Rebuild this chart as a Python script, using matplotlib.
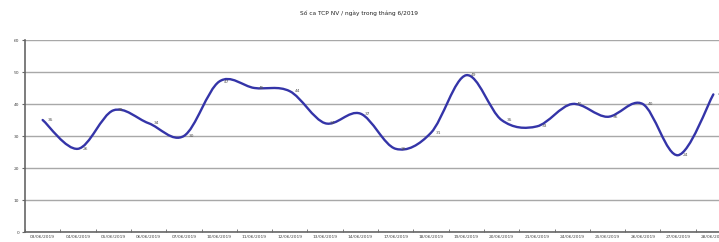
import matplotlib
matplotlib.use('Agg')
import matplotlib.pyplot as plt
from matplotlib.path import Path
from matplotlib.patches import PathPatch
import numpy as np

# working days of June 2019
days = [3, 4, 5, 6, 7, 10, 11, 12, 13, 14, 17, 18, 19, 20, 21, 24, 25, 26, 27, 28]
labels = [f'{d:02d}/06/2019' for d in days]
values = [35, 26, 38, 34, 30, 47, 45, 44, 34, 37, 26, 31, 49, 35, 33, 40, 36, 40, 24, 43]
title = 'Số ca TCP NV / ngày trong tháng 6/2019'

line_color = '#3434A8'
grid_color = '#A8A8A8'


def smooth_path(xs, ys):
    # excel-like smoothed line (catmull-rom as cubic bezier)
    pts = np.column_stack([xs, ys]).astype(float)
    ext = np.vstack([pts[0], pts, pts[-1]])
    verts = [tuple(pts[0])]
    codes = [Path.MOVETO]
    for i in range(len(pts) - 1):
        p0, p1, p2, p3 = ext[i], ext[i + 1], ext[i + 2], ext[i + 3]
        c1 = p1 + (p2 - p0) / 6.0
        c2 = p2 - (p3 - p1) / 6.0
        verts += [tuple(c1), tuple(c2), tuple(p2)]
        codes += [Path.CURVE4] * 3
    return Path(verts, codes)


fig = plt.figure(figsize=(7.19, 2.42), dpi=100)
ax = fig.add_axes([25 / 719, 10 / 242, 706 / 719, 192 / 242])

x = np.arange(len(values))
patch = PathPatch(smooth_path(x, values), facecolor='none', edgecolor=line_color,
                  lw=1.7, capstyle='round', joinstyle='round', zorder=3)
ax.add_patch(patch)

for xi, v in zip(x, values):
    ax.annotate(str(v), (xi, v), xytext=(3.5, 0), textcoords='offset points',
                fontsize=3.2, color='#555555', va='center', ha='left', zorder=4)

ax.set_xlim(-0.5, len(values) - 0.5)
ax.set_ylim(0, 60)
ax.set_yticks(range(0, 61, 10))
ax.set_xticks(x)
ax.set_xticklabels(labels, fontsize=3.2, color='#444444')
ax.set_xticks(np.arange(-0.5, len(values), 1), minor=True)
ax.tick_params(axis='x', which='major', length=0, pad=2)
ax.tick_params(axis='x', which='minor', length=2, color='#666666', direction='in')
ax.tick_params(axis='y', labelsize=3.2, labelcolor='#444444', length=2,
               color='#666666', pad=2)

ax.grid(axis='y', color=grid_color, lw=1.0, zorder=0)
for s in ['top', 'right']:
    ax.spines[s].set_visible(False)
ax.spines['left'].set_color('#666666')
ax.spines['bottom'].set_color('#666666')
ax.spines['left'].set_linewidth(1.2)
ax.spines['bottom'].set_linewidth(1.2)

fig.text(0.5, 1 - 13 / 242, title, ha='center', va='center', fontsize=4.2, color='#222222')

fig.savefig('out.png', dpi=100)
